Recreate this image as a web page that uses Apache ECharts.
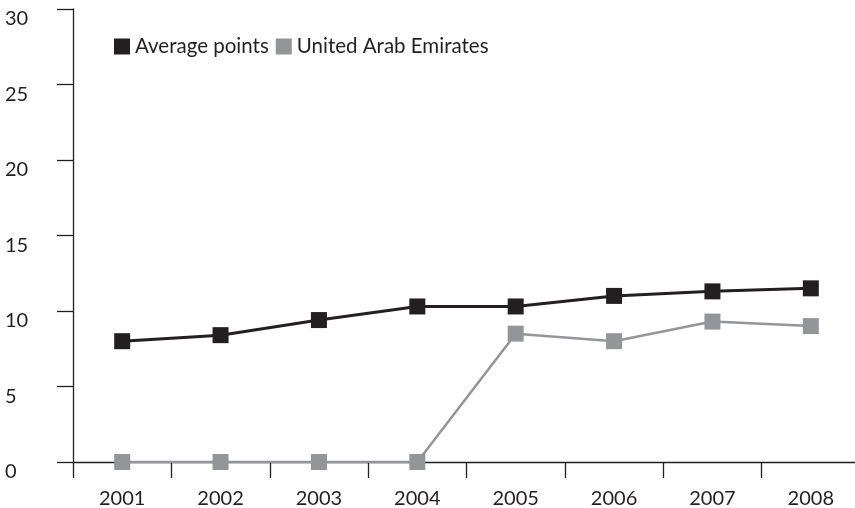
<!DOCTYPE html>
<html>
<head>
<meta charset="utf-8">
<script src="https://cdn.jsdelivr.net/npm/echarts@6/dist/echarts.min.js"></script>
<style>
html,body{margin:0;padding:0;background:#fff;}
#chart{width:855px;height:508px;}
</style>
</head>
<body>
<div id="chart"></div>
<script>
var years = ['2001','2002','2003','2004','2005','2006','2007','2008'];
var averagePoints = [8.0, 8.4, 9.4, 10.3, 10.3, 11.0, 11.3, 11.5];
var uae = [0, 0, 0, 0, 8.5, 8.0, 9.3, 9.0];
var yTicks = {min: 0, max: 30, interval: 5};

var FONT = 'Lato';
var chart = echarts.init(document.getElementById('chart'));
chart.setOption({
  animation: false,
  backgroundColor: '#ffffff',
  textStyle: {fontFamily: FONT},
  legend: {
    left: 114, top: 36,
    padding: 0,
    icon: 'rect',
    itemWidth: 16, itemHeight: 16,
    itemGap: 7,
    textStyle: {fontFamily: FONT, fontSize: 20.5, color: '#231f20'},
    data: ['Average points', 'United Arab Emirates']
  },
  grid: {left: 73, top: 9, width: 787, bottom: 46, containLabel: false, outerBoundsMode: 'none'},
  xAxis: {
    type: 'category',
    data: years,
    boundaryGap: true,
    axisLine: {show: true, lineStyle: {color: '#231f20', width: 1.3}},
    axisTick: {show: true, length: 16, lineStyle: {color: '#231f20', width: 1.3}},
    axisLabel: {margin: 27, fontFamily: FONT, fontSize: 20, color: '#231f20'},
    splitLine: {show: false}
  },
  yAxis: {
    type: 'value',
    min: yTicks.min, max: yTicks.max, interval: yTicks.interval,
    axisLine: {show: true, lineStyle: {color: '#231f20', width: 1.3}},
    axisTick: {show: true, length: 16, lineStyle: {color: '#231f20', width: 1.3}},
    axisLabel: {margin: 68, align: 'left', verticalAlign: 'top', padding: [0,0,0,0], fontFamily: FONT, fontSize: 20, color: '#231f20'},
    splitLine: {show: false}
  },
  series: [
    {
      name: 'United Arab Emirates', type: 'line', data: uae,
      symbol: 'rect', symbolSize: 16,
      itemStyle: {color: '#939598'},
      lineStyle: {color: '#939598', width: 2.5},
      z: 2
    },
    {
      name: 'Average points', type: 'line', data: averagePoints,
      symbol: 'rect', symbolSize: 16,
      itemStyle: {color: '#231f20'},
      lineStyle: {color: '#231f20', width: 3},
      z: 3
    }
  ]
});
</script>
</body>
</html>
